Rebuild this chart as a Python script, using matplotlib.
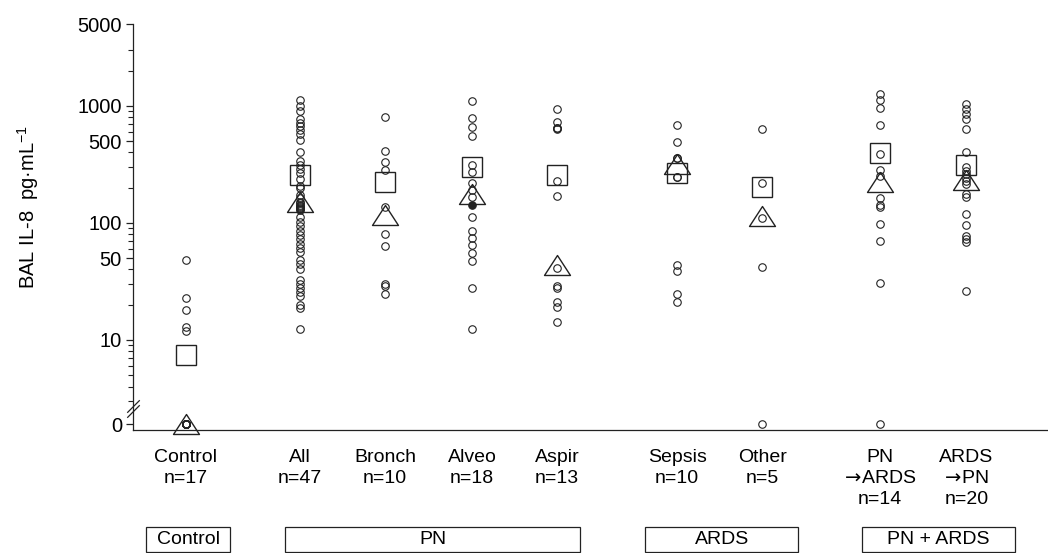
import matplotlib
matplotlib.use("Agg")
import matplotlib.pyplot as plt
import matplotlib.transforms as mtransforms
from matplotlib.path import Path
from matplotlib.patches import Rectangle
import numpy as np

plt.rcParams["font.family"] = ["Liberation Sans", "DejaVu Sans"]
plt.rcParams["mathtext.default"] = "regular"

# ---- data (BAL IL-8, pg/mL; 0 = below detection) ----
labels = ["Control\nn=17", "All\nn=47", "Bronch\nn=10", "Alveo\nn=18", "Aspir\nn=13",
          "Sepsis\nn=10", "Other\nn=5", "PN\n$\\!\\mathsf{\\rightarrow}\\!$ARDS\nn=14",
          "ARDS\n$\\!\\mathsf{\\rightarrow}\\!$PN\nn=20"]
x_pos = [0, 1.326, 2.314, 3.326, 4.314, 5.709, 6.698, 8.07, 9.07]

control = [48.3, 22.6, 18.0, 12.8, 12.0] + [0] * 12
pn_all = [1124, 1000, 895, 771, 713, 668, 618, 579, 515, 405, 337, 310, 287, 269,
          239, 207, 197, 173, 162, 152, 148, 142, 140, 138, 135, 132, 128, 112, 102.6,
          93.8, 84.4, 79.1, 72.2, 66.4, 61.1, 56.4, 47.9, 44.1, 40.2, 32.4, 29.8, 28.0,
          25.5, 23.5, 19.9, 18.7, 12.5]
bronch = [807, 408, 329, 281, 137, 80.2, 63, 30.2, 28.7, 24.9]
alveo = [1102, 787, 660, 557, 310, 272, 218, 190, 167, 112, 86, 74.6, 64.2,
         55.7, 47.3, 27.6, 12.5]
alveo_filled = [142]
aspir = [948, 731, 651, 651, 634, 227, 169, 41, 28.8, 27.7, 21.1, 19.2, 14.3]
sepsis = [686, 495, 357, 357, 245, 245, 44, 38.7, 24.9, 21.1]
other = [630, 220, 109.6, 41.8, 0]
pn_ards = [1271, 1117, 962, 686, 386, 285, 250, 164, 142, 137, 97.5, 69.5, 30.8, 0]
ards_pn = [1033, 931, 844, 765, 634, 402, 300, 276, 259, 242, 227, 213, 175, 167,
           118.5, 95.7, 76.5, 72.8, 68, 26]

means = [7.4, 255, 222, 300, 257, 265, 202, 392, 314]
medians = [0, 152, 117, 176, 44, 316, 115, 222, 233]

box_names = ["Control", "PN", "ARDS", "PN + ARDS"]
box_spans = [(-0.465, 0.512), (1.151, 4.581), (5.337, 7.116), (7.86, 9.64)]

# zero values sit on the broken part of the log axis
ZERO = 1.9


def place(vals):
    return [v if v > 0 else ZERO for v in vals]


series = [control, pn_all, bronch, alveo, aspir, sepsis, other, pn_ards, ards_pn]

fig = plt.figure(figsize=(10.48, 5.53), dpi=100)
ax = fig.add_axes([0.1269, 0.2224, 0.8731, 0.7342])

ink = "#222222"
tri = Path([(0, 1), (-1.3, -1), (1.3, -1), (0, 1)],
           [Path.MOVETO, Path.LINETO, Path.LINETO, Path.CLOSEPOLY])

for x, vals in zip(x_pos, series):
    ax.plot([x] * len(vals), place(vals), ls="none", marker="o", ms=5.4,
            mfc="none", mec=ink, mew=0.8, clip_on=False)
ax.plot([x_pos[3]] * len(alveo_filled), alveo_filled, ls="none", marker="o",
        ms=5.4, mfc=ink, mec=ink, mew=0.8)

ax.plot(x_pos, place(means), ls="none", marker="s", ms=14.4, mfc="none",
        mec=ink, mew=1.0, clip_on=False)
ax.plot(x_pos, place(medians), ls="none", marker=tri, ms=18.7, mfc="none",
        mec=ink, mew=1.0, clip_on=False)

# axes
ax.set_yscale("log")
ax.set_ylim(1.70, 5000)
ax.set_xlim(-0.616, 10.02)
ax.spines["top"].set_visible(False)
ax.spines["right"].set_visible(False)
for s in ("left", "bottom"):
    ax.spines[s].set_color(ink)
    ax.spines[s].set_linewidth(0.9)

ax.set_yticks([ZERO, 10, 50, 100, 500, 1000, 5000])
ax.set_yticklabels(["0", "10", "50", "100", "500", "1000", "5000"], fontsize=14.5)
minor = [m * 10 ** d for d in (0, 1, 2) for m in range(2, 10)
         if not (d == 0 and m == 2) and m * 10 ** d not in (50, 500)]
minor += [2000, 3000]
ax.set_yticks(minor, minor=True)
ax.yaxis.set_minor_formatter(matplotlib.ticker.NullFormatter())
ax.tick_params(axis="y", which="major", length=5, width=0.9, color=ink, pad=3)
ax.tick_params(axis="y", which="minor", length=3.5, width=0.8, color=ink)

ax.set_xticks(x_pos)
ax.set_xticklabels(labels, fontsize=14, linespacing=1.3)
ax.tick_params(axis="x", length=0, pad=14)

# break marks on the y axis
brk = mtransforms.blended_transform_factory(ax.transAxes, ax.transData)
slash = Path([(-1, -1), (1, 1)], [Path.MOVETO, Path.LINETO])
ax.plot([0, 0], [2.45, 2.72], transform=brk, ls="none", marker=slash, ms=9,
        mec=ink, mew=0.9, clip_on=False)

fig.text(28 / 1048, 1 - 207 / 553, "BAL IL-8  pg\u00b7mL$^{-1}$", rotation=90,
         ha="center", va="center", fontsize=14.5)

# group boxes under the category labels
bx = mtransforms.blended_transform_factory(ax.transData, fig.transFigure)
for name, (x0, x1) in zip(box_names, box_spans):
    ax.add_patch(Rectangle((x0, 0.002), x1 - x0, 0.045, transform=bx, fill=False,
                           ec=ink, lw=0.9, clip_on=False))
    ax.text((x0 + x1) / 2, 0.0245, name, transform=bx, ha="center", va="center",
            fontsize=14)

fig.savefig("out.png", dpi=100)
